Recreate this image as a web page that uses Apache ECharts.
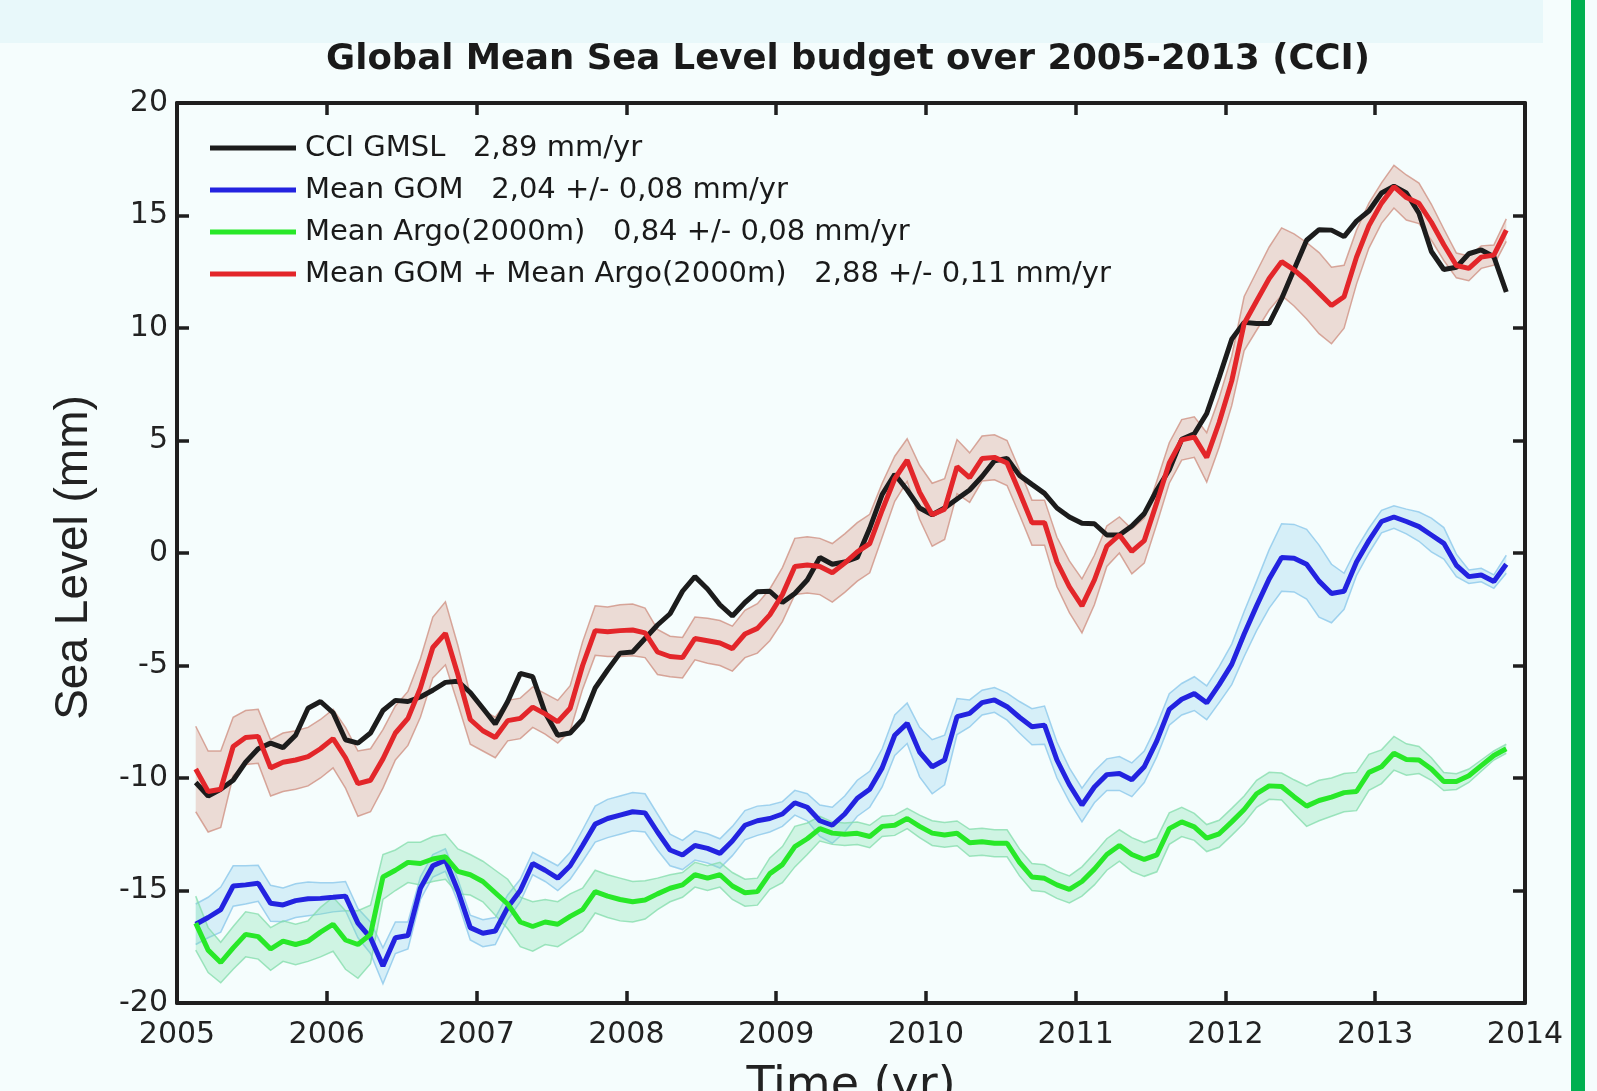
<!DOCTYPE html>
<html><head><meta charset="utf-8">
<script src="https://cdn.jsdelivr.net/npm/echarts@6/dist/echarts.min.js"></script>
<style>html,body{margin:0;padding:0;background:#f5fdfd}#c{width:1597px;height:1091px}</style>
</head><body><div id="c"></div>
<script>
// decimal years (monthly samples)
const years = [
2005.125,2005.208,2005.292,2005.375,2005.458,2005.542,2005.625,2005.708,2005.792,2005.875,2005.958,2006.042,
2006.125,2006.208,2006.292,2006.375,2006.458,2006.542,2006.625,2006.708,2006.792,2006.875,2006.958,2007.042,
2007.125,2007.208,2007.292,2007.375,2007.458,2007.542,2007.625,2007.708,2007.792,2007.875,2007.958,2008.042,
2008.125,2008.208,2008.292,2008.375,2008.458,2008.542,2008.625,2008.708,2008.792,2008.875,2008.958,2009.042,
2009.125,2009.208,2009.292,2009.375,2009.458,2009.542,2009.625,2009.708,2009.792,2009.875,2009.958,2010.042,
2010.125,2010.208,2010.292,2010.375,2010.458,2010.542,2010.625,2010.708,2010.792,2010.875,2010.958,2011.042,
2011.125,2011.208,2011.292,2011.375,2011.458,2011.542,2011.625,2011.708,2011.792,2011.875,2011.958,2012.042,
2012.125,2012.208,2012.292,2012.375,2012.458,2012.542,2012.625,2012.708,2012.792,2012.875,2012.958,2013.042,
2013.125,2013.208,2013.292,2013.375,2013.458,2013.542,2013.625,2013.708,2013.792,2013.875];

const cciGmsl = [
-10.2,-10.8,-10.5,-10.1,-9.3,-8.7,-8.45,-8.65,-8.1,-6.9,-6.6,-7.1,
-8.3,-8.45,-8.0,-7.0,-6.55,-6.6,-6.4,-6.1,-5.75,-5.7,-6.2,-6.9,
-7.6,-6.6,-5.35,-5.5,-7.1,-8.1,-8.0,-7.4,-6.0,-5.2,-4.45,-4.4,
-3.8,-3.2,-2.7,-1.7,-1.05,-1.6,-2.3,-2.8,-2.2,-1.72,-1.7,-2.2,
-1.8,-1.2,-0.2,-0.5,-0.4,-0.2,1.1,2.6,3.5,2.8,2.0,1.7,
2.0,2.4,2.8,3.4,4.1,4.2,3.45,3.05,2.65,2.0,1.6,1.32,
1.3,0.8,0.8,1.2,1.75,2.8,3.7,5.05,5.3,6.2,7.8,9.5,
10.25,10.2,10.2,11.3,12.6,13.9,14.37,14.35,14.06,14.75,15.2,16.0,
16.3,16.0,15.1,13.4,12.6,12.7,13.3,13.47,13.17,11.6];

const gomPlusArgo = [
-9.6,-10.6,-10.5,-8.6,-8.2,-8.15,-9.55,-9.3,-9.2,-9.05,-8.7,-8.25,
-9.1,-10.25,-10.1,-9.15,-8.0,-7.35,-6.0,-4.2,-3.57,-5.4,-7.4,-7.9,
-8.2,-7.45,-7.35,-6.85,-7.15,-7.5,-6.9,-5.0,-3.45,-3.5,-3.45,-3.42,
-3.55,-4.4,-4.6,-4.65,-3.8,-3.9,-4.0,-4.25,-3.6,-3.35,-2.75,-1.85,
-0.6,-0.53,-0.6,-0.88,-0.45,0.05,0.42,1.9,3.3,4.13,2.7,1.7,
1.95,3.84,3.35,4.2,4.25,4.0,2.7,1.35,1.35,-0.4,-1.5,-2.35,
-1.2,0.3,0.8,0.07,0.55,2.25,4.0,5.03,5.15,4.25,5.8,7.65,
10.2,11.2,12.2,12.95,12.58,12.1,11.55,11.0,11.39,13.15,14.55,15.55,
16.28,15.8,15.54,14.7,13.7,12.78,12.65,13.15,13.24,14.35];

const gom = [
-16.5,-16.2,-15.85,-14.8,-14.75,-14.68,-15.57,-15.64,-15.45,-15.37,-15.35,-15.3,
-15.25,-16.45,-17.1,-18.35,-17.1,-17.0,-14.9,-13.9,-13.65,-15.0,-16.65,-16.9,
-16.8,-15.75,-15.0,-13.8,-14.1,-14.45,-13.9,-13.0,-12.05,-11.8,-11.65,-11.5,
-11.55,-12.4,-13.2,-13.42,-13.0,-13.13,-13.35,-12.8,-12.1,-11.9,-11.8,-11.6,
-11.1,-11.3,-11.9,-12.1,-11.6,-10.9,-10.5,-9.55,-8.1,-7.57,-8.85,-9.5,
-9.2,-7.27,-7.13,-6.65,-6.53,-6.83,-7.3,-7.72,-7.65,-9.2,-10.3,-11.2,
-10.4,-9.85,-9.8,-10.08,-9.5,-8.35,-6.95,-6.5,-6.25,-6.66,-5.85,-4.95,
-3.6,-2.35,-1.15,-0.2,-0.23,-0.5,-1.25,-1.8,-1.7,-0.4,0.55,1.4,
1.6,1.4,1.17,0.8,0.43,-0.55,-1.05,-0.98,-1.27,-0.5];

const argo = [
-16.45,-17.65,-18.2,-17.55,-16.95,-17.05,-17.6,-17.25,-17.4,-17.25,-16.85,-16.5,
-17.2,-17.4,-16.95,-14.4,-14.1,-13.75,-13.8,-13.6,-13.5,-14.15,-14.3,-14.6,
-15.1,-15.6,-16.4,-16.6,-16.4,-16.5,-16.15,-15.85,-15.05,-15.25,-15.4,-15.5,
-15.42,-15.15,-14.9,-14.75,-14.3,-14.45,-14.3,-14.8,-15.1,-15.05,-14.25,-13.85,
-13.05,-12.7,-12.25,-12.45,-12.5,-12.46,-12.6,-12.15,-12.1,-11.8,-12.15,-12.45,
-12.53,-12.46,-12.88,-12.83,-12.9,-12.9,-13.75,-14.4,-14.46,-14.75,-14.95,-14.6,
-14.05,-13.4,-13.0,-13.4,-13.62,-13.42,-12.25,-11.95,-12.17,-12.67,-12.48,-11.95,
-11.4,-10.7,-10.35,-10.38,-10.83,-11.25,-11.0,-10.85,-10.65,-10.6,-9.75,-9.5,
-8.9,-9.18,-9.2,-9.6,-10.16,-10.16,-9.9,-9.45,-9.0,-8.7];

// half-width of the uncertainty envelopes (mm)
const gomPlusArgoErr = [
1.9,1.8,1.7,1.3,1.2,1.2,1.25,1.3,1.3,1.3,1.3,1.3,
1.35,1.45,1.4,1.3,1.2,1.2,1.3,1.35,1.4,1.3,1.1,0.9,
0.9,0.9,0.9,0.9,0.9,0.95,1.0,1.05,1.1,1.1,1.15,1.15,
1.1,1.0,0.9,0.9,0.95,1.0,1.0,1.0,1.05,1.1,1.15,1.2,
1.25,1.25,1.25,1.3,1.3,1.3,1.3,1.2,1.0,0.95,1.2,1.4,
1.35,1.2,1.1,1.0,1.0,1.0,1.0,1.0,1.0,1.1,1.15,1.2,
1.1,0.9,0.8,1.0,1.0,0.95,0.9,0.9,0.9,1.1,1.1,1.1,
1.2,1.3,1.4,1.5,1.6,1.7,1.8,1.7,1.4,1.2,1.0,0.9,
0.95,1.0,0.9,0.8,0.7,0.55,0.55,0.5,0.45,0.5];

const gomErr = [
0.9,0.9,1.0,0.9,0.85,0.8,0.8,0.75,0.75,0.75,0.7,0.65,
0.65,0.65,0.7,0.8,0.7,0.6,0.5,0.5,0.5,0.5,0.55,0.6,
0.6,0.55,0.5,0.5,0.5,0.55,0.6,0.7,0.8,0.85,0.85,0.85,
0.85,0.8,0.7,0.65,0.65,0.65,0.65,0.65,0.65,0.65,0.6,0.55,
0.55,0.6,0.7,0.8,0.8,0.8,0.8,0.85,0.9,0.9,1.1,1.2,
1.1,0.8,0.6,0.55,0.55,0.6,0.7,0.8,0.85,0.8,0.75,0.75,
0.7,0.7,0.75,0.75,0.7,0.7,0.7,0.7,0.75,0.75,0.8,0.9,
1.0,1.1,1.3,1.5,1.5,1.55,1.6,1.3,0.8,0.6,0.55,0.5,
0.5,0.55,0.65,0.75,0.7,0.5,0.3,0.3,0.3,0.4];

const argoErr = [
1.2,1.0,0.9,0.95,1.0,1.0,0.95,0.9,0.9,0.9,1.1,1.2,
1.3,1.5,1.3,1.0,0.9,0.9,0.95,1.0,1.0,1.0,0.9,0.9,
1.0,1.1,1.1,1.1,1.0,1.0,1.0,0.95,0.95,0.95,0.95,0.9,
0.85,0.7,0.6,0.55,0.55,0.55,0.55,0.6,0.6,0.6,0.7,0.8,
0.9,0.7,0.55,0.5,0.5,0.5,0.5,0.45,0.45,0.45,0.5,0.55,
0.55,0.55,0.6,0.6,0.6,0.6,0.6,0.6,0.6,0.6,0.6,0.65,
0.7,0.7,0.7,0.75,0.75,0.75,0.7,0.65,0.6,0.6,0.6,0.6,
0.6,0.6,0.6,0.6,0.75,0.9,0.9,0.85,0.85,0.85,0.8,0.75,
0.75,0.7,0.6,0.5,0.4,0.35,0.3,0.25,0.2,0.2];

const seriesNames = [
  'CCI GMSL   2,89 mm/yr',
  'Mean GOM   2,04 +/- 0,08 mm/yr',
  'Mean Argo(2000m)   0,84 +/- 0,08 mm/yr',
  'Mean GOM + Mean Argo(2000m)   2,88 +/- 0,11 mm/yr'
];
const titleText = 'Global Mean Sea Level budget over 2005-2013 (CCI)';
const xAxisName = 'Time (yr)';
const yAxisName = 'Sea Level (mm)';

const FONT = 'DejaVu Sans';
const AXIS = '#1e1e1e';

function pairs(vals){ return years.map((t,i)=>[t, vals[i]]); }
function line(name, vals, color){
  return {type:'line', name, data:pairs(vals), symbol:'none', showSymbol:false,
    lineStyle:{color, width:5}, itemStyle:{color}, z:3};
}
// uncertainty envelope drawn as one polygon through the cartesian coordinate system
function band(name, vals, err, fill, edge){
  return {type:'custom', name, silent:true, z:2,
    data: years.map((t,i)=>[t, vals[i]-err[i], vals[i]+err[i]]),
    encode:{x:0, y:[1,2]},
    renderItem(params, api){
      if (params.dataIndex !== 0) return null;
      const up = [], lo = [];
      for (let i = 0; i < years.length; i++){
        up.push(api.coord([years[i], vals[i]+err[i]]));
        lo.push(api.coord([years[i], vals[i]-err[i]]));
      }
      return {type:'group', children:[
        {type:'polygon', shape:{points: up.concat(lo.slice().reverse())}, style:{fill:fill, stroke:null}},
        {type:'polyline', shape:{points:up}, style:{stroke:edge, lineWidth:1.5, fill:'none'}},
        {type:'polyline', shape:{points:lo}, style:{stroke:edge, lineWidth:1.5, fill:'none'}}
      ]};
    }};
}

const chart = echarts.init(document.getElementById('c'), null, {renderer:'canvas'});
const baseX = {type:'value', min:2005, max:2014, interval:1, splitLine:{show:false},
  axisLine:{show:true, onZero:false, lineStyle:{color:AXIS, width:4}},
  axisTick:{inside:true, length:12, lineStyle:{color:AXIS, width:3.5}}};
const baseY = {type:'value', min:-20, max:20, interval:5, splitLine:{show:false},
  axisLine:{show:true, onZero:false, lineStyle:{color:AXIS, width:4}},
  axisTick:{inside:true, length:12, lineStyle:{color:AXIS, width:3.5}}};

chart.setOption({
  animation:false,
  backgroundColor:'#f5fdfd',
  graphic:[
    {type:'rect', shape:{x:0, y:0, width:1543, height:43}, style:{fill:'#e8f8fa'}, z:-1, silent:true},
    {type:'rect', shape:{x:1571, y:0, width:14, height:1091}, style:{fill:'#00b050'}, z:-1, silent:true},
    {type:'text', x:848, y:60, silent:true, style:{text:titleText, fill:'#1a1a1a',
      font:'bold 35.5px "DejaVu Sans"', textAlign:'center', textVerticalAlign:'middle'}}
  ],
  grid:{left:177, top:103, width:1348, height:900, containLabel:false, outerBoundsMode:'none'},
  legend:{data:seriesNames, orient:'vertical', left:205, top:128, icon:'rect',
    itemWidth:86, itemHeight:5, itemGap:12, selectedMode:false,
    textStyle:{fontFamily:FONT, fontSize:29, color:'#1a1a1a', lineHeight:30, padding:[0,0,0,4]}},
  xAxis:[
    Object.assign({}, baseX, {position:'bottom',
      axisLabel:{fontFamily:FONT, fontSize:30, color:'#222', margin:17, formatter:v=>String(v)},
      name:xAxisName, nameLocation:'middle', nameGap:61,
      nameTextStyle:{fontFamily:FONT, fontSize:46, color:'#222'}}),
    Object.assign({}, baseX, {position:'top', axisLabel:{show:false}})
  ],
  yAxis:[
    Object.assign({}, baseY, {position:'left',
      axisLabel:{fontFamily:FONT, fontSize:30, color:'#222', margin:9},
      name:yAxisName, nameLocation:'middle', nameGap:80, nameRotate:90,
      nameTextStyle:{fontFamily:'Liberation Sans', fontSize:46, color:'#222', padding:[0,9,0,0]}}),
    Object.assign({}, baseY, {position:'right', axisLabel:{show:false}})
  ],
  series:[
    line(seriesNames[0], cciGmsl, '#1c1c1c'),
    band('envGomArgo', gomPlusArgo, gomPlusArgoErr, 'rgba(215,150,130,0.32)', 'rgba(205,140,125,0.75)'),
    band('envGom', gom, gomErr, 'rgba(150,210,240,0.32)', 'rgba(140,200,235,0.8)'),
    band('envArgo', argo, argoErr, 'rgba(120,225,170,0.3)', 'rgba(130,220,170,0.75)'),
    line(seriesNames[1], gom, '#2323e0'),
    line(seriesNames[2], argo, '#28e828'),
    line(seriesNames[3], gomPlusArgo, '#e3262a')
  ]
});
</script>
</body></html>
